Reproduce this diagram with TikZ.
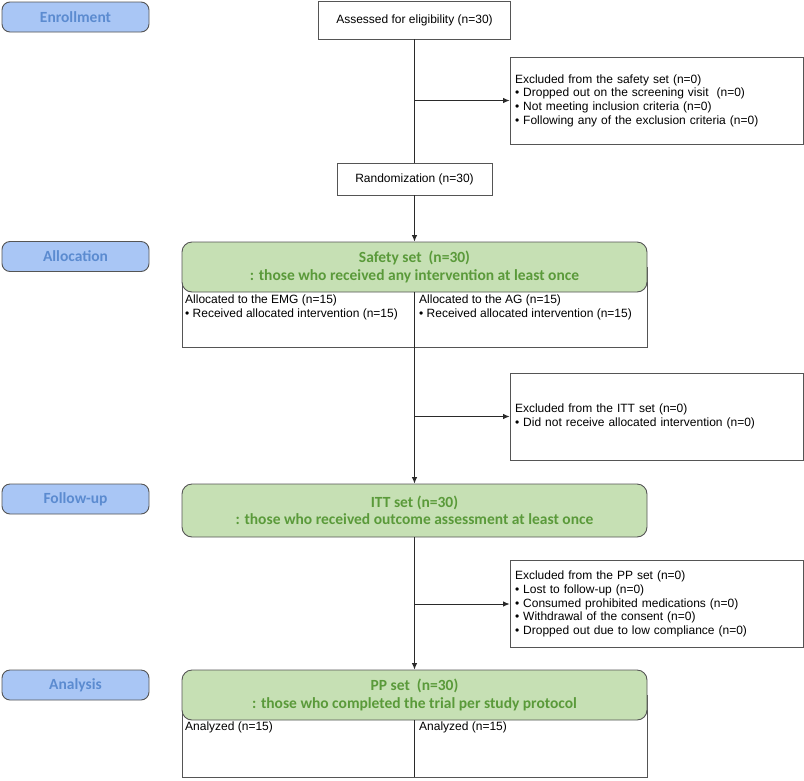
\documentclass[tikz,border=0pt]{standalone}
\usepackage{fontspec}
\usetikzlibrary{arrows.meta}
\newfontfamily\arialf{Liberation Sans}
\newfontfamily\calibf{Carlito}
\definecolor{lblfill}{HTML}{A9C6F5}
\definecolor{lbltext}{HTML}{5B8BD0}
\definecolor{grnfill}{HTML}{C6E0B4}
\definecolor{grntext}{HTML}{5A9A3A}
\definecolor{bordc}{HTML}{555555}
\definecolor{linec}{HTML}{2A2A2A}
\tikzset{
  stagelbl/.style={draw=bordc, line width=0.9pt, fill=lblfill, rounded corners=8pt,
    minimum width=147pt, minimum height=30pt, inner sep=0pt,
    font=\calibf\bfseries\fontsize{15.5}{17}\selectfont, text=lbltext},
  plainbox/.style={draw=bordc, line width=0.8pt, fill=white, inner sep=0pt,
    font=\arialf\fontsize{12}{13.7}\selectfont},
  exclbox/.style={draw=bordc, line width=0.8pt, fill=white, inner xsep=5pt, inner ysep=0pt,
    minimum width=293pt, minimum height=87pt, text width=283pt, align=left,
    font=\arialf\fontsize{12}{13.7}\selectfont},
  grnbox/.style={draw=bordc, line width=0.9pt, fill=grnfill, rounded corners=10pt,
    minimum width=465pt, inner sep=0pt, align=center,
    font=\calibf\bfseries\fontsize{15.5}{17.5}\selectfont, text=grntext},
  whitepart/.style={draw=bordc, line width=0.8pt, fill=white, minimum width=465pt, inner sep=0pt},
  smalltxt/.style={inner sep=0pt, align=left, anchor=north west,
    font=\arialf\fontsize{12}{13.7}\selectfont},
  conn/.style={draw=linec, line width=0.9pt},
  arr/.style={conn, -{Latex[length=6.5pt,width=5.5pt]}}
}
\begin{document}
\begin{tikzpicture}[x=1pt,y=-1pt]
\useasboundingbox[fill=white] (0,0) rectangle (804,780);

% stage labels
\node[stagelbl] (enr) at (75.5,17) {Enrollment};
\node[stagelbl] (alloc) at (75.5,256.5) {Allocation};
\node[stagelbl] (follow) at (75.5,499) {Follow-up};
\node[stagelbl] (anal) at (75.5,685) {Analysis};

% enrollment
\node[plainbox, minimum width=192pt, minimum height=38pt] (assess) at (414.5,20) {Assessed for eligibility (n=30)};
\node[exclbox] (excl1) at (656.5,100.5) {Excluded from the safety set (n=0)\\
• Dropped out on the screening visit\ \ (n=0)\\
• Not meeting inclusion criteria (n=0)\\
• Following any of the exclusion criteria (n=0)};
\node[plainbox, minimum width=155pt, minimum height=32pt] (rand) at (414.5,179) {Randomization (n=30)};

% safety set
\node[whitepart, minimum height=80pt] (safetyw) at (414.5,307) {};
\node[grnbox, minimum height=50pt] (safety) at (414.5,267) {Safety set\ \ (n=30)\\: those who received any intervention at least once};
\node[smalltxt] (emg) at (185,295) {Allocated to the EMG (n=15)\\• Received allocated intervention (n=15)};
\node[smalltxt] (ag) at (419,295) {Allocated to the AG (n=15)\\• Received allocated intervention (n=15)};

\node[exclbox] (excl2) at (656.5,416.5) {Excluded from the ITT set (n=0)\\
• Did not receive allocated intervention (n=0)};

% ITT
\node[grnbox, minimum height=53pt] (itt) at (414.5,510.5) {ITT set (n=30)\\: those who received outcome assessment at least once};

\node[exclbox] (excl3) at (656.5,604) {Excluded from the PP set (n=0)\\
• Lost to follow-up (n=0)\\
• Consumed prohibited medications (n=0)\\
• Withdrawal of the consent (n=0)\\
• Dropped out due to low compliance (n=0)};

% PP
\node[whitepart, minimum height=82pt] (ppw) at (414.5,736) {};
\node[grnbox, minimum height=50pt] (pp) at (414.5,695) {PP set\ \ (n=30)\\: those who completed the trial per study protocol};
\node[smalltxt] (an1) at (185,722) {Analyzed (n=15)};
\node[smalltxt] (an2) at (419,722) {Analyzed (n=15)};

% connectors
\draw[conn] (assess.south) -- (rand.north);
\draw[arr] (assess.south |- excl1.west) -- (excl1.west);
\draw[arr] (rand.south) -- (safety.north);
\draw[arr] (safety.south) -- (itt.north);
\draw[arr] (safety.south |- excl2.west) -- (excl2.west);
\draw[arr] (itt.south) -- (pp.north);
\draw[arr] (itt.south |- excl3.west) -- (excl3.west);
\draw[conn] (pp.south) -- (ppw.south);
\end{tikzpicture}
\end{document}
